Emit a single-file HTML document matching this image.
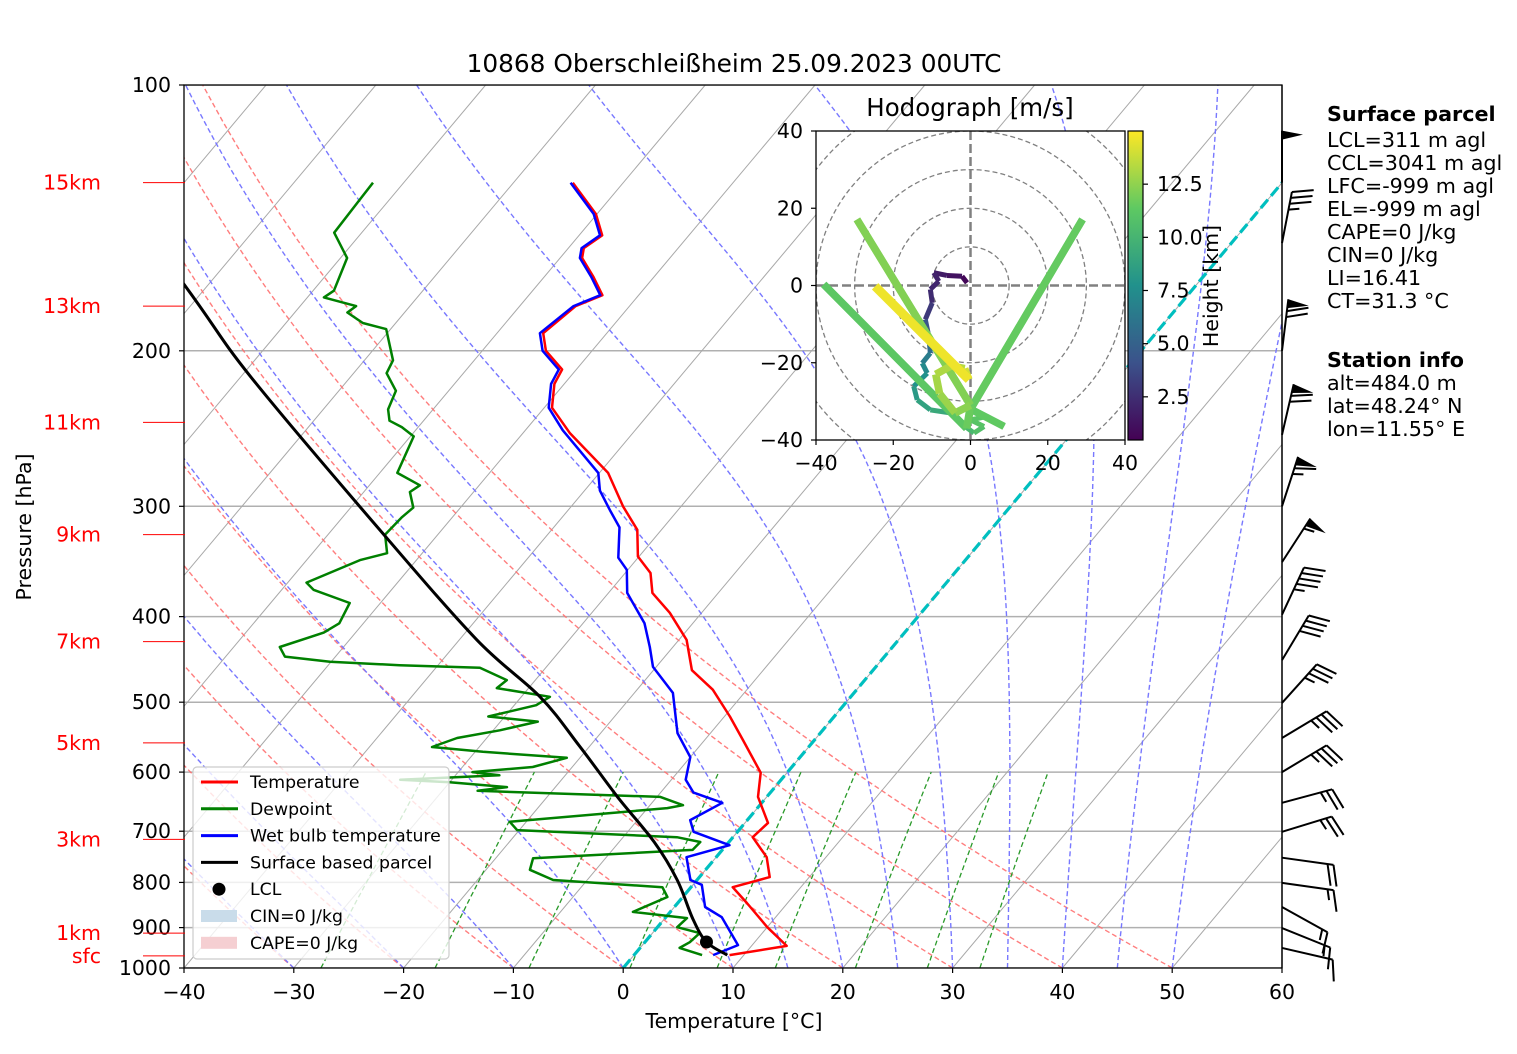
<!DOCTYPE html>
<html><head><meta charset="utf-8"><style>
html,body{margin:0;padding:0;background:#fff;}
svg{display:block;font-family:"DejaVu Sans","Liberation Sans",sans-serif;}
</style></head><body>
<svg id="chart" width="1517" height="1054" viewBox="0 0 1517 1054" xmlns="http://www.w3.org/2000/svg">
<defs>
<clipPath id="plotclip"><rect x="184" y="85" width="1098" height="883"/></clipPath>
<clipPath id="hodoclip"><rect x="816" y="131" width="309" height="309"/></clipPath>
<linearGradient id="viridis" x1="0" y1="1" x2="0" y2="0">
<stop offset="0" stop-color="#440154"/><stop offset="0.25" stop-color="#3b528b"/><stop offset="0.5" stop-color="#21918c"/><stop offset="0.75" stop-color="#5ec962"/><stop offset="1" stop-color="#fde725"/>
</linearGradient>
</defs>
<g id="bg" clip-path="url(#plotclip)"></g>
<g id="prof" clip-path="url(#plotclip)"></g>
<g id="axes"></g>
<g id="hodo"></g>
<g id="barbs"></g>
<text x="734" y="72" font-size="24.8" text-anchor="middle">10868 Oberschleißheim 25.09.2023 00UTC</text>
<text x="0" y="0" font-size="20.5" text-anchor="middle" transform="translate(31,527) rotate(-90)">Pressure [hPa]</text>
<text x="734" y="1028" font-size="20.5" text-anchor="middle">Temperature [°C]</text>
<g font-size="20.7">
<text x="1327" y="121" font-weight="bold">Surface parcel</text>
<text x="1327" y="147">LCL=311 m agl</text>
<text x="1327" y="170">CCL=3041 m agl</text>
<text x="1327" y="193">LFC=-999 m agl</text>
<text x="1327" y="216">EL=-999 m agl</text>
<text x="1327" y="239">CAPE=0 J/kg</text>
<text x="1327" y="262">CIN=0 J/kg</text>
<text x="1327" y="285">LI=16.41</text>
<text x="1327" y="308">CT=31.3 °C</text>
<text x="1327" y="367" font-weight="bold">Station info</text>
<text x="1327" y="390">alt=484.0 m</text>
<text x="1327" y="413">lat=48.24° N</text>
<text x="1327" y="436">lon=11.55° E</text>
</g>
<g id="legend"></g>
</svg>
<script>
// ---- data ----
const tempP = [967,944,899,844,810,789,749,711,685,640,601,552,519,484,460,425,396,376,357,342,319,300,275,248,232,218,210,200,191,178,173,165,157,153,148,140,129];
const tempT = [8.7,13.2,10.0,6.3,3.8,6.4,4.6,1.8,2.1,-0.8,-2.4,-6.5,-9.5,-13.1,-16.5,-19.3,-22.9,-26.0,-27.7,-30.1,-32.2,-35.3,-39.2,-45.7,-49.3,-50.9,-51.3,-54.2,-55.8,-54.9,-53.3,-55.5,-58.0,-58.6,-57.9,-60.1,-64.6];
const wbP = [967,942,876,853,805,795,749,726,701,680,650,633,612,577,542,488,456,433,407,376,354,343,317,303,288,275,246,232,218,210,200,191,178,173,165,157,153,148,140,129];
const wbT = [7.2,8.7,5.1,2.8,0.8,-0.6,-2.7,0.3,-4.0,-5.2,-3.6,-7.0,-8.7,-10.0,-13.0,-16.5,-20.3,-22.1,-24.4,-28.3,-30.1,-31.8,-34.0,-36.2,-38.6,-40.1,-46.6,-49.6,-51.2,-51.6,-54.5,-56.1,-55.1,-53.5,-55.7,-58.2,-58.8,-58.1,-60.3,-64.8];
const dpP = [967,949,935,913,899,878,864,831,810,795,774,751,735,720,711,698,683,659,654,640,630,624,616,612,605,600,592,578,569,562,549,538,526,519,504,493,482,472,457,454,450,444,433,417,407,386,373,366,345,339,323,309,301,289,284,275,250,244,240,233,222,212,205,189,186,181,178,174,171,157,147,135,129];
const dpT = [6.2,3.6,4.1,4.3,1.8,2.0,-3.4,-1.4,-2.6,-13.1,-16.0,-16.6,-2.7,-2.6,-5.1,-20.2,-21.5,-8.2,-7.0,-9.7,-26.8,-24.4,-30.0,-34.7,-26.0,-28.7,-23.6,-21.2,-29.3,-34.3,-32.7,-29.4,-26.6,-31.5,-28.0,-27.4,-32.9,-32.6,-36.0,-43.5,-50.1,-54.6,-55.8,-52.9,-52.2,-52.8,-57.1,-58.3,-55.1,-53.2,-54.8,-54.6,-54.3,-55.8,-55.4,-58.4,-59.7,-61.5,-63.1,-64.1,-64.8,-67.0,-67.4,-70.4,-73.0,-75.2,-74.9,-78.5,-78.1,-79.4,-82.5,-82.7,-82.8];
const parP = [967,934.5,880,795,720,640,560,493,425,322,214,168,100];
const parT = [8.5,5.6,2.6,-1.8,-6.8,-13.6,-21.0,-28.3,-38.4,-55.1,-79.1,-92.3,-121];
const lclP = [934.5];
const lclT = [5.6];
const pTicks = [100,200,300,400,500,600,700,800,900,1000];
const tTicks = [-40,-30,-20,-10,0,10,20,30,40,50,60];
const kmLabels = ["15km","13km","11km","9km","7km","5km","3km","1km","sfc"];
const kmP = [129,178,241,323,427,556,715,913,969];
const dryT0 = [-50,-40,-30,-20,-10,0,10,20,30,40,50];
const moistT0 = [-30,-20,-10,0,10,15,20,25,30,35,40,45,50];
const mixW = [0.4,1,2,4,7,10,16,24,32];
const barbP = [129,151,200,249,300,347,398,448,501,549,600,650,701,750,801,853,901,949];
const barbDir = [0,11,7,13,18,33,25,31,42,59,59,75,73,98,98,119,112,103];
const barbSpd = [50,35,70,70,65,55,45,40,35,35,35,25,25,20,15,15,15,10];
const hodoU = [-0.9,-2.2,-6.1,-9.5,-8.2,-10.4,-9.9,-11.7,-10.8,-10.4,-12.5,-11.2,-14.7,-13.8,-10.4,-5.2,-2.6,0.9,3.5,0,4.3,8.7,0,29,0,-1,-38,-1,0,-29.4,0,-4,-8,-9,-5,-1.5,-0.4,-24.7];
const hodoV = [0.7,2.4,2.6,3.3,1.1,-1.0,-4.5,-8.8,-13.1,-17.5,-20.1,-22.7,-26.1,-29.6,-32.2,-33.0,-35.6,-38.2,-36.5,-34.8,-33.9,-36.5,-32,17.1,-32,-37,0.3,-37,-31,17.1,-31,-33,-28,-23,-20.8,-21.5,-24.4,-0.2];
const hodoH = [0.5,1,1.5,1.8,2,2.2,2.5,3.5,5,6,7,7.5,8,8.5,9,9.5,10,10.5,11,11,11.2,11.4,11.4,11.5,11.5,11.3,11.2,11.3,12,12.2,12.2,12.6,12.9,13.1,13.3,13.5,14.5,14.8];
const cbTicks = [2.5,5.0,7.5,10.0,12.5];
const hodoTicks = [-40,-20,0,20,40];

// ---- scales ----
const NS = "http://www.w3.org/2000/svg";
function yP(p){ return 85 + 883*Math.log10(p/100); }
function xT(T,p){ return 623.2 + T*10.98 + (968 - yP(p))*0.839; }
function mk(tag, attrs, parent){ const e=document.createElementNS(NS,tag); for(const k in attrs) e.setAttribute(k, attrs[k]); parent.appendChild(e); return e; }
function ptsStr(a){ return a.map(q=>q[0].toFixed(1)+","+q[1].toFixed(1)).join(" "); }
function smoothPath(pts){
  let d="M"+pts[0][0].toFixed(1)+","+pts[0][1].toFixed(1);
  for(let i=0;i<pts.length-1;i++){
    const p0=pts[Math.max(0,i-1)], p1=pts[i], p2=pts[i+1], p3=pts[Math.min(pts.length-1,i+2)];
    const c1=[p1[0]+(p2[0]-p0[0])/6, p1[1]+(p2[1]-p0[1])/6];
    const c2=[p2[0]-(p3[0]-p1[0])/6, p2[1]-(p3[1]-p1[1])/6];
    d+=` C${c1[0].toFixed(1)},${c1[1].toFixed(1)} ${c2[0].toFixed(1)},${c2[1].toFixed(1)} ${p2[0].toFixed(1)},${p2[1].toFixed(1)}`;
  }
  return d;
}

const bg = document.getElementById("bg");
const prof = document.getElementById("prof");
const axes = document.getElementById("axes");

pTicks.forEach(p=>{
  const l = mk("line",{x1:184,x2:1282,y1:yP(p),y2:yP(p),stroke:"#b0b0b0","stroke-width":1.5},bg);
  
  
});
for(let T=-170; T<=60; T+=10){
  const l = mk("line",{x1:xT(T,1000),y1:yP(1000),x2:xT(T,100),y2:yP(100),stroke:"#a8a8a8","stroke-width":1},bg);
  
  
}
dryT0.forEach(t0=>{
  const th = t0+273.15, pts=[];
  for(let p=1000; p>=100; p-=10){ const T=th*Math.pow(p/1000,0.2857)-273.15; pts.push([xT(T,p),yP(p)]); }
  const l = mk("polyline",{points:ptsStr(pts),fill:"none",stroke:"#ff7070","stroke-width":1.4,"stroke-dasharray":"5,3",opacity:0.9},bg);
  
  
});
moistT0.forEach(t0=>{
  let T=t0+273.15; const pts=[];
  const Rd=287.04, Cp=1005.7, Lv=2.501e6, eps=0.622;
  for(let p=1000; p>=100; p-=5){
    pts.push([xT(T-273.15,p),yP(p)]);
    const es=6.112*Math.exp(17.67*(T-273.15)/(T-29.65));
    const rs=eps*es/(p-es);
    const d=(Rd*T+Lv*rs)/(p*(Cp+Lv*Lv*rs*eps/(Rd*T*T)));
    T -= d*5;
  }
  const l = mk("polyline",{points:ptsStr(pts),fill:"none",stroke:"#7878ff","stroke-width":1.4,"stroke-dasharray":"5,3"},bg);
  
  
});
mixW.forEach(w=>{
  const pts=[];
  for(let p=1000; p>=600; p-=10){ const e=w*p/(622+w); const L=Math.log(e/6.112); const Td=243.5*L/(17.67-L); pts.push([xT(Td,p),yP(p)]); }
  const l = mk("polyline",{points:ptsStr(pts),fill:"none",stroke:"#2a9a2a","stroke-width":1.3,"stroke-dasharray":"5,3"},bg);
  
  
});
{
  const l = mk("line",{x1:xT(0,1000),y1:yP(1000),x2:xT(0,100),y2:yP(100),stroke:"#00bfbf","stroke-width":3.2,"stroke-dasharray":"11,5"},bg);
  
  
}
function profile(P,T,color,name,w){
  const pts=P.map((p,i)=>[xT(T[i],p),yP(p)]);
  const l = mk("polyline",{points:ptsStr(pts),fill:"none",stroke:color,"stroke-width":w,"stroke-linejoin":"round"},prof);
  
  
}
profile(tempP,tempT,"#ff0000","temperature-line",2.5);
profile(wbP,wbT,"#0000ff","wet-bulb-line",2.5);
profile(dpP,dpT,"#008000","dewpoint-line",2.5);
{
  const pts=parP.map((p,i)=>[xT(parT[i],p),yP(p)]);
  const l=mk("path",{d:smoothPath(pts),fill:"none",stroke:"#000","stroke-width":3},prof);
  
  
}
{
  const c = mk("circle",{cx:xT(lclT[0],lclP[0]),cy:yP(lclP[0]),r:6.5,fill:"#000"},prof);
  
  
}
mk("rect",{x:184,y:85,width:1098,height:883,fill:"none",stroke:"#000","stroke-width":1.3},axes);
pTicks.forEach(p=>{
  mk("line",{x1:179,x2:184,y1:yP(p),y2:yP(p),stroke:"#000","stroke-width":1.2},axes);
  const t = mk("text",{x:171,y:yP(p)+7,"font-size":20.5,"text-anchor":"end"},axes);
  t.textContent = p;
  
  
});
tTicks.forEach(T=>{
  const x=623.2+T*10.98;
  mk("line",{x1:x,x2:x,y1:968,y2:973,stroke:"#000","stroke-width":1.2},axes);
  const t = mk("text",{x:x,y:999,"font-size":20.5,"text-anchor":"middle"},axes);
  t.textContent = T<0 ? "\u2212"+(-T) : T;
  
  
});
kmLabels.forEach((s,i)=>{
  const y=yP(kmP[i]);
  mk("line",{x1:143,x2:185,y1:y,y2:y,stroke:"#ff0000","stroke-width":1},axes);
  const t = mk("text",{x:101,y:y+7,"font-size":20.5,"text-anchor":"end",fill:"#ff0000"},axes);
  t.textContent = s;
  
  
});
{
  const lg=document.getElementById("legend");
  mk("rect",{x:193,y:767,width:256,height:192,rx:4,fill:"#ffffff","fill-opacity":0.8,stroke:"#cccccc","stroke-width":1.2},lg);
  const items=[["Temperature","#ff0000","line"],["Dewpoint","#008000","line"],["Wet bulb temperature","#0000ff","line"],["Surface based parcel","#000000","line"],["LCL","#000","dot"],["CIN=0 J/kg","#c9dcea","patch"],["CAPE=0 J/kg","#f5cfd2","patch"]];
  items.forEach((it,i)=>{
    const y=782+i*26.8;
    if(it[2]==="line") mk("line",{x1:201,x2:238,y1:y,y2:y,stroke:it[1],"stroke-width":3},lg);
    else if(it[2]==="dot") mk("circle",{cx:219,cy:y,r:6.5,fill:"#000"},lg);
    else mk("rect",{x:201,y:y-6,width:36,height:12,fill:it[1]},lg);
    const t=mk("text",{x:250,y:y+6,"font-size":17.3},lg);
    t.textContent=it[0];
    
    
  });
}
{
  const g=document.getElementById("barbs");
  mk("line",{x1:1282,x2:1282,y1:85,y2:968,stroke:"#000","stroke-width":1.3},g);
  barbP.forEach((p,i)=>{
    const bx=1282, by=yP(p), a=barbDir[i]*Math.PI/180;
    const sx=Math.sin(a), sy=-Math.cos(a);
    const px=-sy, py=sx, L=52, B=21;
    const tx=bx+sx*L, ty=by+sy*L;
    const bg2=mk("g",{},g);
    
    
    mk("line",{x1:bx,y1:by,x2:tx,y2:ty,stroke:"#000","stroke-width":2},bg2);
    let s=barbSpd[i], pos=0;
    const nf=Math.floor(s/50); s-=nf*50;
    const nb=Math.floor(s/10); s-=nb*10;
    const nh=s>=5?1:0;
    for(let k=0;k<nf;k++){
      const x0=tx-sx*pos, y0=ty-sy*pos;
      mk("polygon",{points:`${x0},${y0} ${x0+px*B-sx*4},${y0+py*B-sy*4} ${x0-sx*9},${y0-sy*9}`,fill:"#000"},bg2);
      pos+=11;
    }
    if(nf&&(nb||nh)) pos+=1;
    for(let k=0;k<nb;k++){
      const x0=tx-sx*pos, y0=ty-sy*pos;
      mk("line",{x1:x0,y1:y0,x2:x0+px*B+sx*6,y2:y0+py*B+sy*6,stroke:"#000","stroke-width":2},bg2);
      pos+=6;
    }
    if(nh){
      if(nf+nb===0) pos+=6;
      const x0=tx-sx*pos, y0=ty-sy*pos;
      mk("line",{x1:x0,y1:y0,x2:x0+px*B/2+sx*3,y2:y0+py*B/2+sy*3,stroke:"#000","stroke-width":2},bg2);
    }
  });
}
{
  const g=document.getElementById("hodo");
  const cx=970.5, cy=285.5, k=309/80;
  const hu=u=>cx+u*k, hv=v=>cy-v*k;
  mk("rect",{x:816,y:131,width:309,height:309,fill:"#fff"},g);
  const cl=mk("g",{"clip-path":"url(#hodoclip)"},g);
  [10,20,30,40,50].forEach(r=>mk("circle",{cx:cx,cy:cy,r:r*k,fill:"none",stroke:"#808080","stroke-width":1.3,"stroke-dasharray":"5,3"},cl));
  mk("line",{x1:816,x2:1125,y1:cy,y2:cy,stroke:"#808080","stroke-width":2.5,"stroke-dasharray":"9,4"},cl);
  mk("line",{x1:cx,x2:cx,y1:131,y2:440,stroke:"#808080","stroke-width":2.5,"stroke-dasharray":"9,4"},cl);
  const stops=[[68,1,84],[59,82,139],[33,145,140],[94,201,98],[253,231,37]];
  function vir(h){ let t=(h-0.47)/(15-0.47); t=Math.max(0,Math.min(1,t))*4; const i=Math.min(3,Math.floor(t)), f=t-i; const c=stops[i].map((v,j)=>Math.round(v+(stops[i+1][j]-v)*f)); return `rgb(${c})`; }
  for(let i=0;i<hodoU.length-1;i++){
    const l=mk("line",{x1:hu(hodoU[i]),y1:hv(hodoV[i]),x2:hu(hodoU[i+1]),y2:hv(hodoV[i+1]),stroke:vir((hodoH[i]+hodoH[i+1])/2),"stroke-width":i<21?5:(i===hodoU.length-2?9:7.5),"stroke-linecap":"butt","stroke-linejoin":"round"},cl);
    
    
  }
  mk("rect",{x:816,y:131,width:309,height:309,fill:"none",stroke:"#000","stroke-width":1.3},g);
  hodoTicks.forEach(v=>{
    const lab=v<0?"\u2212"+(-v):""+v;
    mk("line",{x1:811,x2:816,y1:hv(v),y2:hv(v),stroke:"#000","stroke-width":1.2},g);
    const t1=mk("text",{x:803,y:hv(v)+7,"font-size":20.5,"text-anchor":"end"},g); t1.textContent=lab;
    
    
    mk("line",{x1:hu(v),x2:hu(v),y1:440,y2:445,stroke:"#000","stroke-width":1.2},g);
    const t2=mk("text",{x:hu(v),y:470,"font-size":20.5,"text-anchor":"middle"},g); t2.textContent=lab;
    
    
  });
  const tt=mk("text",{x:970,y:116,"font-size":24.5,"text-anchor":"middle"},g); tt.textContent="Hodograph [m/s]";
  
  
  const cb=mk("rect",{x:1128,y:131,width:15,height:309,fill:"url(#viridis)",stroke:"#000","stroke-width":1.2},g);
  
  
  cbTicks.forEach(h=>{
    const y=440-(h-0.47)/(15-0.47)*309;
    mk("line",{x1:1143,x2:1148,y1:y,y2:y,stroke:"#000","stroke-width":1.2},g);
    const t=mk("text",{x:1157,y:y+7,"font-size":20.5},g); t.textContent=h.toFixed(1);
    
    
  });
  const ht=mk("text",{x:0,y:0,"font-size":20.5,"text-anchor":"middle",transform:"translate(1218,286) rotate(-90)"},g); ht.textContent="Height [km]";
  
  
}
</script>
</body></html>
